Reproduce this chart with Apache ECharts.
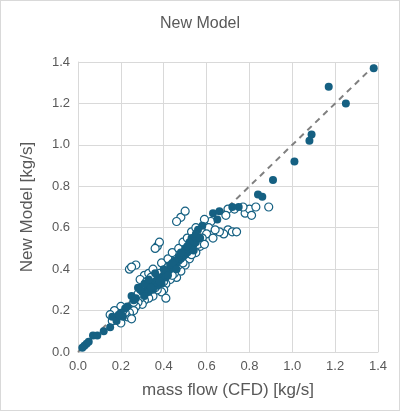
<!DOCTYPE html><html><head><meta charset="utf-8"><script src="https://cdn.jsdelivr.net/npm/echarts@6/dist/echarts.min.js"></script>
<style>html,body{margin:0;padding:0;background:#fff}#c{width:398px;height:409px;border:1px solid #d9d9d9}</style></head><body><div id="c"></div><script>
const ticks=[0,0.2,0.4,0.6,0.8,1.0,1.2,1.4];
const filled=[[1.38,1.37],[1.17,1.28],[1.25,1.2],[1.09,1.05],[1.08,1.02],[1.01,0.92],[0.91,0.83],[0.84,0.76],[0.86,0.75],[0.75,0.70],[0.72,0.70],[0.63,0.67],[0.66,0.68],[0.65,0.64],[0.58,0.61],[0.56,0.59],[0.07,0.08],[0.09,0.08],[0.03,0.03],[0.04,0.04],[0.02,0.02],[0.05,0.05],[0.16,0.17],[0.18,0.15],[0.25,0.27],[0.26,0.25],[0.22,0.21],[0.2,0.19],
[0.30,0.29],[0.32,0.30],[0.33,0.31],[0.34,0.33],[0.35,0.32],[0.36,0.34],[0.37,0.35],[0.38,0.36],[0.39,0.35],[0.40,0.37],[0.41,0.38],[0.42,0.39],[0.43,0.40],[0.44,0.41],[0.45,0.42],[0.46,0.43],[0.47,0.44],[0.48,0.45],[0.49,0.46],[0.50,0.47],[0.51,0.48],[0.52,0.49],[0.53,0.51],[0.54,0.52],[0.55,0.53],[0.56,0.55],[0.53,0.55],[0.52,0.53],[0.50,0.50],[0.47,0.46],[0.45,0.44],[0.43,0.42],[0.41,0.36],[0.39,0.33],[0.37,0.32],[0.35,0.30],[0.33,0.29],[0.31,0.27],[0.29,0.30],[0.28,0.31],[0.27,0.26],[0.31,0.33],[0.33,0.35],[0.36,0.38],[0.40,0.40],[0.44,0.43],[0.48,0.48],[0.51,0.51],[0.46,0.40],[0.42,0.37],[0.38,0.34],[0.34,0.31],[0.55,0.57],[0.57,0.55],[0.54,0.49],[0.23,0.22],[0.21,0.17],[0.19,0.18],[0.15,0.12],[0.12,0.10]];
const hollow=[[0.48,0.65],[0.50,0.68],[0.46,0.63],[0.37,0.51],[0.38,0.53],[0.36,0.50],[0.24,0.40],[0.27,0.42],[0.25,0.41],[0.70,0.69],[0.78,0.67],[0.80,0.69],[0.83,0.70],[0.77,0.70],[0.70,0.59],[0.68,0.57],[0.72,0.58],[0.74,0.58],[0.66,0.58],[0.89,0.70],[0.62,0.63],[0.61,0.60],[0.60,0.57],[0.58,0.55],[0.57,0.51],[0.55,0.48],[0.52,0.45],[0.50,0.42],[0.48,0.39],[0.46,0.36],[0.45,0.38],[0.43,0.35],[0.41,0.33],[0.40,0.30],[0.39,0.29],[0.37,0.30],[0.35,0.27],[0.33,0.26],[0.31,0.25],[0.30,0.23],[0.29,0.26],[0.28,0.24],[0.27,0.22],[0.26,0.20],[0.24,0.19],[0.23,0.17],[0.22,0.19],[0.21,0.20],[0.20,0.22],[0.19,0.16],[0.18,0.18],[0.17,0.20],[0.16,0.15],[0.15,0.18],[0.20,0.14],[0.25,0.16],[0.41,0.26],[0.31,0.37],[0.29,0.35],[0.33,0.38],[0.35,0.40],[0.39,0.43],[0.42,0.45],[0.44,0.48],[0.47,0.50],[0.49,0.53],[0.51,0.55],[0.53,0.58],[0.55,0.60],[0.59,0.64],[0.32,0.34],[0.36,0.31],[0.42,0.41],[0.47,0.42],[0.53,0.47],[0.56,0.52],[0.59,0.52],[0.63,0.55],[0.64,0.59],[0.34,0.36],[0.30,0.31],[0.28,0.28],[0.26,0.24],[0.44,0.37],[0.38,0.38],[0.40,0.34],[0.49,0.43],[0.52,0.51],[0.69,0.66],[0.81,0.66],[0.73,0.69]];
const diag=[[0,0],[1.4,1.4]];
const c=echarts.init(document.getElementById('c'));
const col='#156082', txt='#595959';
const ax=(name,gap)=>({type:'value',min:0,max:1.4,interval:0.2,name:name,nameLocation:'middle',nameGap:gap,
 nameTextStyle:{color:txt,fontSize:17,fontFamily:'Liberation Sans'},
 axisLabel:{color:txt,fontSize:13,fontFamily:'Liberation Sans',formatter:v=>v.toFixed(1)},
 axisLine:{show:true,lineStyle:{color:'#d9d9d9'}},axisTick:{show:false},splitLine:{lineStyle:{color:'#d9d9d9'}}});
c.setOption({animation:false,
 title:{text:'New Model',left:'center',top:10,textStyle:{color:txt,fontSize:16,fontWeight:'normal',fontFamily:'Liberation Sans'}},
 grid:{left:77,right:21,top:61,bottom:58},
 xAxis:ax('mass flow (CFD) [kg/s]',30),yAxis:ax('New Model [kg/s]',42),
 series:[
 {type:'line',data:diag,symbol:'none',lineStyle:{color:'#808080',width:2,type:[6,5]},z:1},
 {type:'scatter',data:hollow,symbolSize:8,itemStyle:{color:'#fff',borderColor:col,borderWidth:1.2,opacity:1},z:2},
 {type:'scatter',data:filled,symbolSize:8,itemStyle:{color:col,opacity:1},z:3}
 ]});
</script></body></html>
